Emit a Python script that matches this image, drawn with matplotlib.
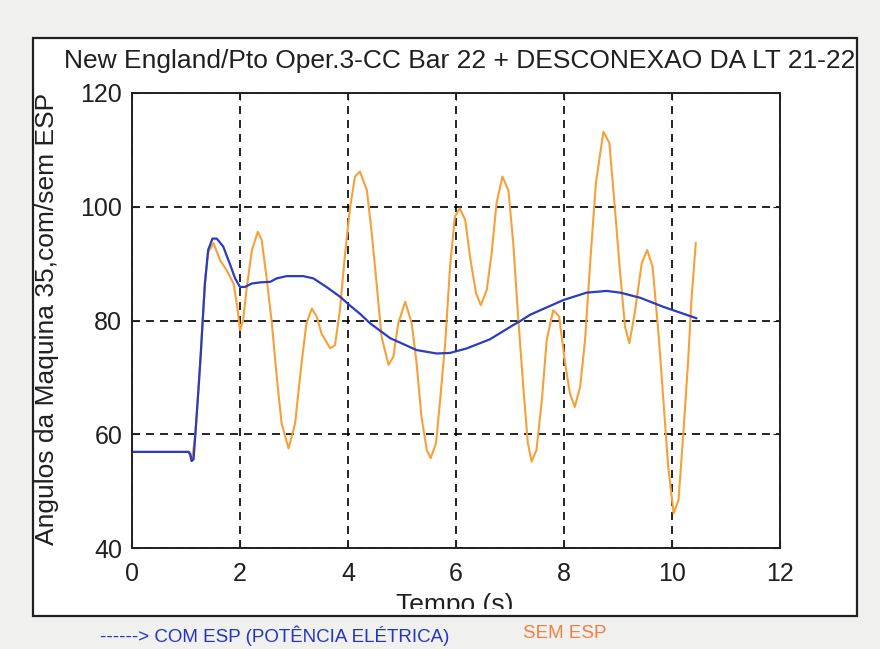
import matplotlib
matplotlib.use('Agg')
import matplotlib.pyplot as plt
from matplotlib.patches import Rectangle
from matplotlib.transforms import Bbox

plt.rcParams['font.family'] = ['Liberation Sans Narrow', 'Liberation Sans', 'DejaVu Sans']

# tempo (s) e angulo - COM ESP
t_com = [0.0, 1.05, 1.08, 1.105, 1.14, 1.17, 1.23, 1.27, 1.31, 1.35, 1.41, 1.49, 1.57, 1.69,
         1.81, 1.91, 2.0, 2.09, 2.22, 2.37, 2.56, 2.68, 2.86, 3.17, 3.36, 3.6, 3.85, 4.04,
         4.22, 4.41, 4.78, 5.27, 5.64, 5.89, 6.2, 6.63, 7.06, 7.19, 7.37, 7.56, 7.99, 8.42,
         8.79, 9.04, 9.41, 9.84, 10.39, 10.45]
ang_com = [56.9, 56.9, 56.5, 55.3, 55.6, 59.6, 67.8, 73.6, 80.1, 86.5, 92.4, 94.4, 94.4, 93.0,
           90.0, 87.4, 85.9, 85.9, 86.5, 86.7, 86.8, 87.4, 87.8, 87.8, 87.4, 85.9, 84.2, 82.6,
           81.2, 79.5, 76.9, 74.8, 74.2, 74.3, 75.1, 76.7, 79.2, 79.9, 81.0, 81.8, 83.6, 84.9,
           85.2, 84.9, 84.0, 82.4, 80.6, 80.4]

# tempo (s) e angulo - SEM ESP
t_sem = [0.0, 1.05, 1.105, 1.17, 1.23, 1.27, 1.31, 1.35, 1.41, 1.51, 1.63, 1.75, 1.88, 1.95,
         2.0, 2.06, 2.12, 2.22, 2.33, 2.4, 2.49, 2.59, 2.68, 2.77, 2.9, 3.02, 3.14, 3.23,
         3.33, 3.42, 3.51, 3.67, 3.76, 3.85, 3.94, 4.04, 4.13, 4.22, 4.35, 4.44, 4.53, 4.62,
         4.75, 4.84, 4.93, 5.06, 5.18, 5.27, 5.36, 5.46, 5.53, 5.63, 5.7, 5.8, 5.89, 5.98,
         6.07, 6.17, 6.26, 6.37, 6.46, 6.57, 6.66, 6.75, 6.86, 6.97, 7.06, 7.15, 7.25, 7.33,
         7.4, 7.49, 7.59, 7.68, 7.8, 7.91, 8.02, 8.11, 8.2, 8.3, 8.39, 8.48, 8.59, 8.73,
         8.84, 8.94, 9.04, 9.13, 9.21, 9.31, 9.44, 9.54, 9.64, 9.75, 9.84, 9.93, 10.03, 10.12,
         10.21, 10.3, 10.36, 10.44]
ang_sem = [56.9, 56.9, 55.3, 59.6, 67.8, 73.6, 80.1, 86.5, 92.0, 93.6, 90.6, 88.9, 86.5, 82.4,
           78.3, 80.1, 85.4, 92.4, 95.6, 94.2, 87.7, 79.5, 70.1, 61.9, 57.5, 61.9, 72.5, 79.5,
           82.1, 80.7, 77.7, 75.1, 75.7, 81.8, 91.2, 100.0, 105.3, 106.2, 102.9, 95.3, 86.5, 77.2,
           72.2, 73.6, 79.5, 83.3, 79.5, 72.5, 63.1, 57.2, 55.8, 58.4, 65.4, 76.0, 89.5, 98.3,
           99.7, 97.7, 91.2, 84.8, 82.7, 85.4, 91.8, 100.6, 105.3, 102.9, 93.6, 80.7, 67.8, 58.5,
           55.2, 57.2, 66.0, 76.6, 81.8, 80.7, 72.5, 67.2, 64.8, 68.4, 76.6, 89.5, 104.1, 113.2,
           111.2, 100.0, 88.3, 78.9, 76.0, 81.3, 90.1, 92.4, 89.5, 77.7, 66.0, 54.3, 46.1, 48.4,
           60.2, 73.1, 83.6, 93.6]

xticks = [0, 2, 4, 6, 8, 10, 12]
yticks = [40, 60, 80, 100, 120]

fig = plt.figure(figsize=(8.8, 6.49), dpi=100, facecolor='#f0f0ee')

# moldura branca
W, H = 880, 649
frame = Rectangle((33 / W, 1 - 616 / H), (857 - 33) / W, (616 - 38) / H,
                  transform=fig.transFigure, facecolor='white', edgecolor='#202020',
                  linewidth=1.6, zorder=-5)
fig.patches.append(frame)

ax = fig.add_axes([132 / W, 1 - 548 / H, 648 / W, 455 / H])
ax.set_zorder(1)
ax.plot(t_sem, ang_sem, color='#f6a03a', linewidth=1.5)
ax.plot(t_com, ang_com, color='#2a3cc0', linewidth=1.6)

ax.set_xlim(0, 12)
ax.set_ylim(40, 120)
ax.set_xticks(xticks)
ax.set_yticks(yticks)
ax.grid(True, color='black', linestyle=(0, (4.8, 3.6)), linewidth=1.2)
ax.tick_params(direction='in', length=5, labelsize=18, top=True, right=True,
               colors='#202020')
ax.tick_params(axis='x', pad=10)
ax.tick_params(axis='y', pad=7)
for s in ax.spines.values():
    s.set_linewidth(1.4)
    s.set_color('#202020')

fig.text(460 / W, 1 - 61 / H, 'New England/Pto Oper.3-CC Bar 22 + DESCONEXAO DA LT 21-22',
         ha='center', va='center', fontsize=19, color='#202020')
fig.text(47 / W, 1 - 319 / H, 'Angulos da Maquina 35,com/sem ESP', rotation=90,
         ha='center', va='center', fontsize=19, color='#202020')

xl = fig.text(455 / W, 1 - 612 / H, 'Tempo (s)', ha='center', va='baseline',
              fontsize=19, color='#202020')
xl.set_clip_box(Bbox.from_extents(0, H - 609, W, H))
xl.set_clip_on(True)

fig.text(100 / W, 1 - 636 / H, '------> COM ESP (POTÊNCIA ELÉTRICA)', ha='left', va='center',
         fontsize=13.5, color='#2335c0', family=['Liberation Sans', 'DejaVu Sans'])
fig.text(565 / W, 1 - 634 / H, 'SEM ESP', ha='center', va='center',
         fontsize=13.5, color='#f08045', family=['Liberation Sans', 'DejaVu Sans'])

fig.savefig('out.png', dpi=100, facecolor=fig.get_facecolor())
